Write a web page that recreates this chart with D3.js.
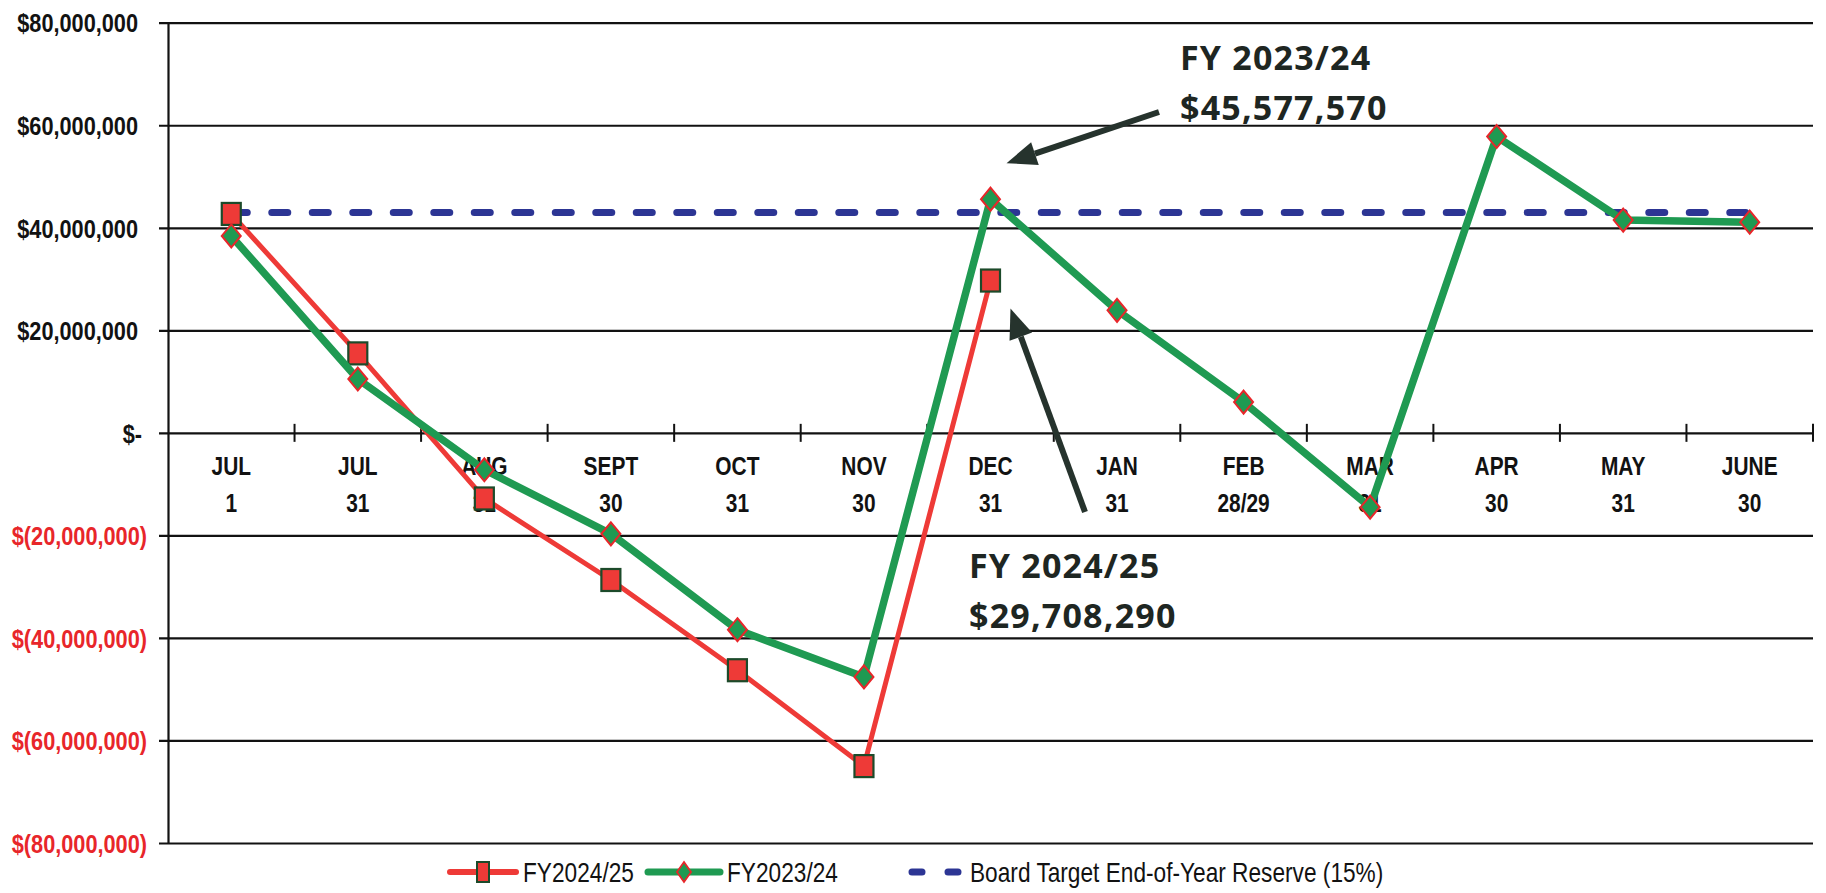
<!DOCTYPE html>
<html>
<head>
<meta charset="utf-8">
<script src="https://cdn.jsdelivr.net/npm/d3@7"></script>
<style>
  html, body { margin: 0; padding: 0; background: #fff; }
  svg { display: block; }
  .narrow { font-family: "Liberation Sans", Arial, sans-serif; }
</style>
</head>
<body>
<svg id="chart" width="1826" height="893"></svg>
<script>
// Month-end checkpoints of the fiscal year
const categories = ["JUL 1", "JUL 31", "AUG 31", "SEPT 30", "OCT 31", "NOV 30", "DEC 31",
                    "JAN 31", "FEB 28/29", "MAR 31", "APR 30", "MAY 31", "JUNE 30"];

// Fund balance, current fiscal year (reported through December)
const fy2425 = [42700000, 15500000, -12800000, -28700000, -46300000, -65000000, 29708290,
                null, null, null, null, null, null];

// Fund balance, prior fiscal year
const fy2324 = [38400000, 10500000, -7200000, -19700000, -38400000, -47600000, 45577570,
                23900000, 6000000, -14500000, 57800000, 41500000, 41100000];

// Board target end-of-year reserve (15%)
const boardTarget = 43000000;

const yTicks = [80000000, 60000000, 40000000, 20000000, 0,
                -20000000, -40000000, -60000000, -80000000];

const seriesNames = ["FY2024/25", "FY2023/24", "Board Target End-of-Year Reserve (15%)"];

const callouts = [
  { title: "FY 2023/24", value: 45577570 },
  { title: "FY 2024/25", value: 29708290 }
];

const plotL = 168, plotR = 1813, plotT = 22.7, plotB = 843;
const SQUEEZE = 0.82;   // horizontal condensing for the narrow label face

const RED = "#ee3a37", RED_EDGE = "#1c4a2a";
const GREEN = "#1f9a52", GREEN_EDGE = "#e8262a";
const BLUE = "#2c3594";
const INK = "#121212";
const NEG = "#e8262a";
const ARROW = "#26332d";

const svg = d3.select("#chart");

const x = d3.scaleBand().domain(categories).range([plotL, plotR]).padding(0);
const y = d3.scaleLinear().domain([-80000000, 80000000]).range([plotB, plotT]);
const cx = c => x(c) + x.bandwidth() / 2;

const fmt = d3.format(",");
const money = v => v === 0 ? "$-" : v > 0 ? "$" + fmt(v) : "$(" + fmt(-v) + ")";

// Horizontal gridlines (extend a little past the axis, like tick marks)
const grid = svg.append("g")
  .attr("transform", `translate(${plotR},0)`)
  .call(d3.axisLeft(y).tickValues(yTicks).tickSize(plotR - plotL + 9).tickFormat(""));
grid.select(".domain").remove();
grid.selectAll(".tick line").attr("stroke", INK).attr("stroke-width", 2.2);

// Y axis line and labels
const yAxis = svg.append("g")
  .attr("transform", `translate(${plotL},0)`)
  .call(d3.axisLeft(y).tickValues(yTicks).tickSize(0).tickPadding(0).tickFormat(money));
yAxis.select(".domain").attr("stroke", INK).attr("stroke-width", 2.2);
yAxis.selectAll(".tick text")
  .attr("class", "narrow")
  .attr("font-size", 26.5)
  .attr("font-weight", "bold")
  .attr("fill", d => d < 0 ? NEG : INK)
  .attr("x", 0)
  .attr("dy", "0.35em")
  .attr("transform", d => `translate(${(d < 0 ? 147 : d === 0 ? 142 : 138) - plotL},0) scale(${SQUEEZE},1)`);

// Category axis along zero: ticks at band boundaries, two-line labels at centres
const y0 = y(0);
const xAxis = svg.append("g")
  .attr("transform", `translate(0,${y0})`)
  .call(d3.axisBottom(x).tickSize(0).tickPadding(0));
xAxis.select(".domain").remove();
xAxis.selectAll(".tick text").each(function(d) {
  const parts = d.split(" ");
  const t = d3.select(this).text(null)
    .attr("class", "narrow")
    .attr("font-size", 25.5)
    .attr("font-weight", "bold")
    .attr("fill", INK)
    .attr("y", 0).attr("dy", null)
    .attr("transform", `scale(${SQUEEZE},1)`);
  t.append("tspan").attr("x", 0).attr("y", 42).text(parts[0]);
  t.append("tspan").attr("x", 0).attr("y", 79).text(parts[1]);
});
const boundaries = categories.map(c => x(c)).slice(1).concat([plotR]);
svg.append("g").selectAll("line").data(boundaries).join("line")
  .attr("x1", d => d).attr("x2", d => d)
  .attr("y1", y0 - 9).attr("y2", y0 + 9)
  .attr("stroke", INK).attr("stroke-width", 2);

// Board target reserve (dashed)
svg.append("line")
  .attr("x1", cx(categories[0])).attr("x2", cx(categories[categories.length - 1]))
  .attr("y1", y(boardTarget)).attr("y2", y(boardTarget))
  .attr("stroke", BLUE).attr("stroke-width", 7)
  .attr("stroke-linecap", "round")
  .attr("stroke-dasharray", "16,24.5");

const line = d3.line()
  .defined(d => d.v !== null)
  .x(d => cx(d.c)).y(d => y(d.v));

const toPts = arr => arr.map((v, i) => ({ c: categories[i], v }));

// FY2024/25 series: red line, red square markers
const redPts = toPts(fy2425);
svg.append("path").datum(redPts)
  .attr("d", line).attr("fill", "none")
  .attr("stroke", RED).attr("stroke-width", 5).attr("stroke-linejoin", "round");
svg.append("g").selectAll("rect").data(redPts.filter(d => d.v !== null)).join("rect")
  .attr("x", d => cx(d.c) - 9.5).attr("y", d => y(d.v) - 11)
  .attr("width", 19).attr("height", 22)
  .attr("fill", RED).attr("stroke", RED_EDGE).attr("stroke-width", 2.2);

// FY2023/24 series: green line, green diamond markers
const greenPts = toPts(fy2324);
svg.append("path").datum(greenPts)
  .attr("d", line).attr("fill", "none")
  .attr("stroke", GREEN).attr("stroke-width", 7.5).attr("stroke-linejoin", "round");
const diamond = (px, py, hw, hh) => `M${px},${py - hh}L${px + hw},${py}L${px},${py + hh}L${px - hw},${py}Z`;
svg.append("g").selectAll("path").data(greenPts.filter(d => d.v !== null)).join("path")
  .attr("d", d => diamond(cx(d.c), y(d.v), 9.5, 11.5))
  .attr("fill", GREEN).attr("stroke", GREEN_EDGE).attr("stroke-width", 2);

// Callouts with arrows pointing at the December balances
function arrow(x1, y1, x2, y2) {
  const ang = Math.atan2(y2 - y1, x2 - x1);
  const len = 30, half = 12;
  const bx = x2 - len * Math.cos(ang), by = y2 - len * Math.sin(ang);
  const g = svg.append("g");
  g.append("line").attr("x1", x1).attr("y1", y1).attr("x2", bx).attr("y2", by)
    .attr("stroke", ARROW).attr("stroke-width", 6);
  const px = -Math.sin(ang), py = Math.cos(ang);
  g.append("path")
    .attr("d", `M${x2},${y2}L${bx + px * half},${by + py * half}L${bx - px * half},${by - py * half}Z`)
    .attr("fill", ARROW);
}

const decX = cx("DEC 31");
const c1 = callouts[0], c2 = callouts[1];
arrow(1159, 112, decX + 16, y(c1.value) - 36);
arrow(1085, 512, decX + 20, y(c2.value) + 28);

function calloutText(c, tx, ty) {
  const t = svg.append("text")
    .attr("font-family", "'Open Sans', sans-serif")
    .attr("font-weight", 700)
    .attr("font-size", 34)
    .attr("letter-spacing", 1.2)
    .attr("fill", "#1e2622");
  t.append("tspan").attr("x", tx).attr("y", ty).text(c.title);
  t.append("tspan").attr("x", tx).attr("y", ty + 50).text("$" + fmt(c.value));
}
calloutText(c1, 1180, 70);
calloutText(c2, 969, 578);

// Legend
const legY = 872;
const leg = svg.append("g");
const items = [
  { name: seriesNames[0], x1: 450, x2: 516, text: 523 },
  { name: seriesNames[1], x1: 648, x2: 720, text: 727 },
  { name: seriesNames[2], x1: 908, x2: 962, text: 970 }
];
leg.append("line").attr("x1", items[0].x1).attr("x2", items[0].x2)
  .attr("y1", legY).attr("y2", legY).attr("stroke", RED).attr("stroke-width", 6).attr("stroke-linecap", "round");
leg.append("rect").attr("x", (items[0].x1 + items[0].x2) / 2 - 6).attr("y", legY - 10)
  .attr("width", 12).attr("height", 20).attr("fill", RED).attr("stroke", RED_EDGE).attr("stroke-width", 2);
leg.append("line").attr("x1", items[1].x1).attr("x2", items[1].x2)
  .attr("y1", legY).attr("y2", legY).attr("stroke", GREEN).attr("stroke-width", 7).attr("stroke-linecap", "round");
leg.append("path").attr("d", diamond((items[1].x1 + items[1].x2) / 2, legY, 7, 10))
  .attr("fill", GREEN).attr("stroke", GREEN_EDGE).attr("stroke-width", 1.8);
leg.append("line").attr("x1", items[2].x1 + 4).attr("x2", items[2].x2 - 4)
  .attr("y1", legY).attr("y2", legY).attr("stroke", BLUE).attr("stroke-width", 7)
  .attr("stroke-linecap", "round").attr("stroke-dasharray", "10,26");

leg.selectAll("text").data(items).join("text")
  .attr("class", "narrow")
  .attr("x", 0).attr("y", 0).attr("dy", "0.36em")
  .attr("transform", d => `translate(${d.text},${legY}) scale(0.84,1)`)
  .attr("font-size", 27).attr("fill", INK)
  .text(d => d.name);
</script>
</body>
</html>
